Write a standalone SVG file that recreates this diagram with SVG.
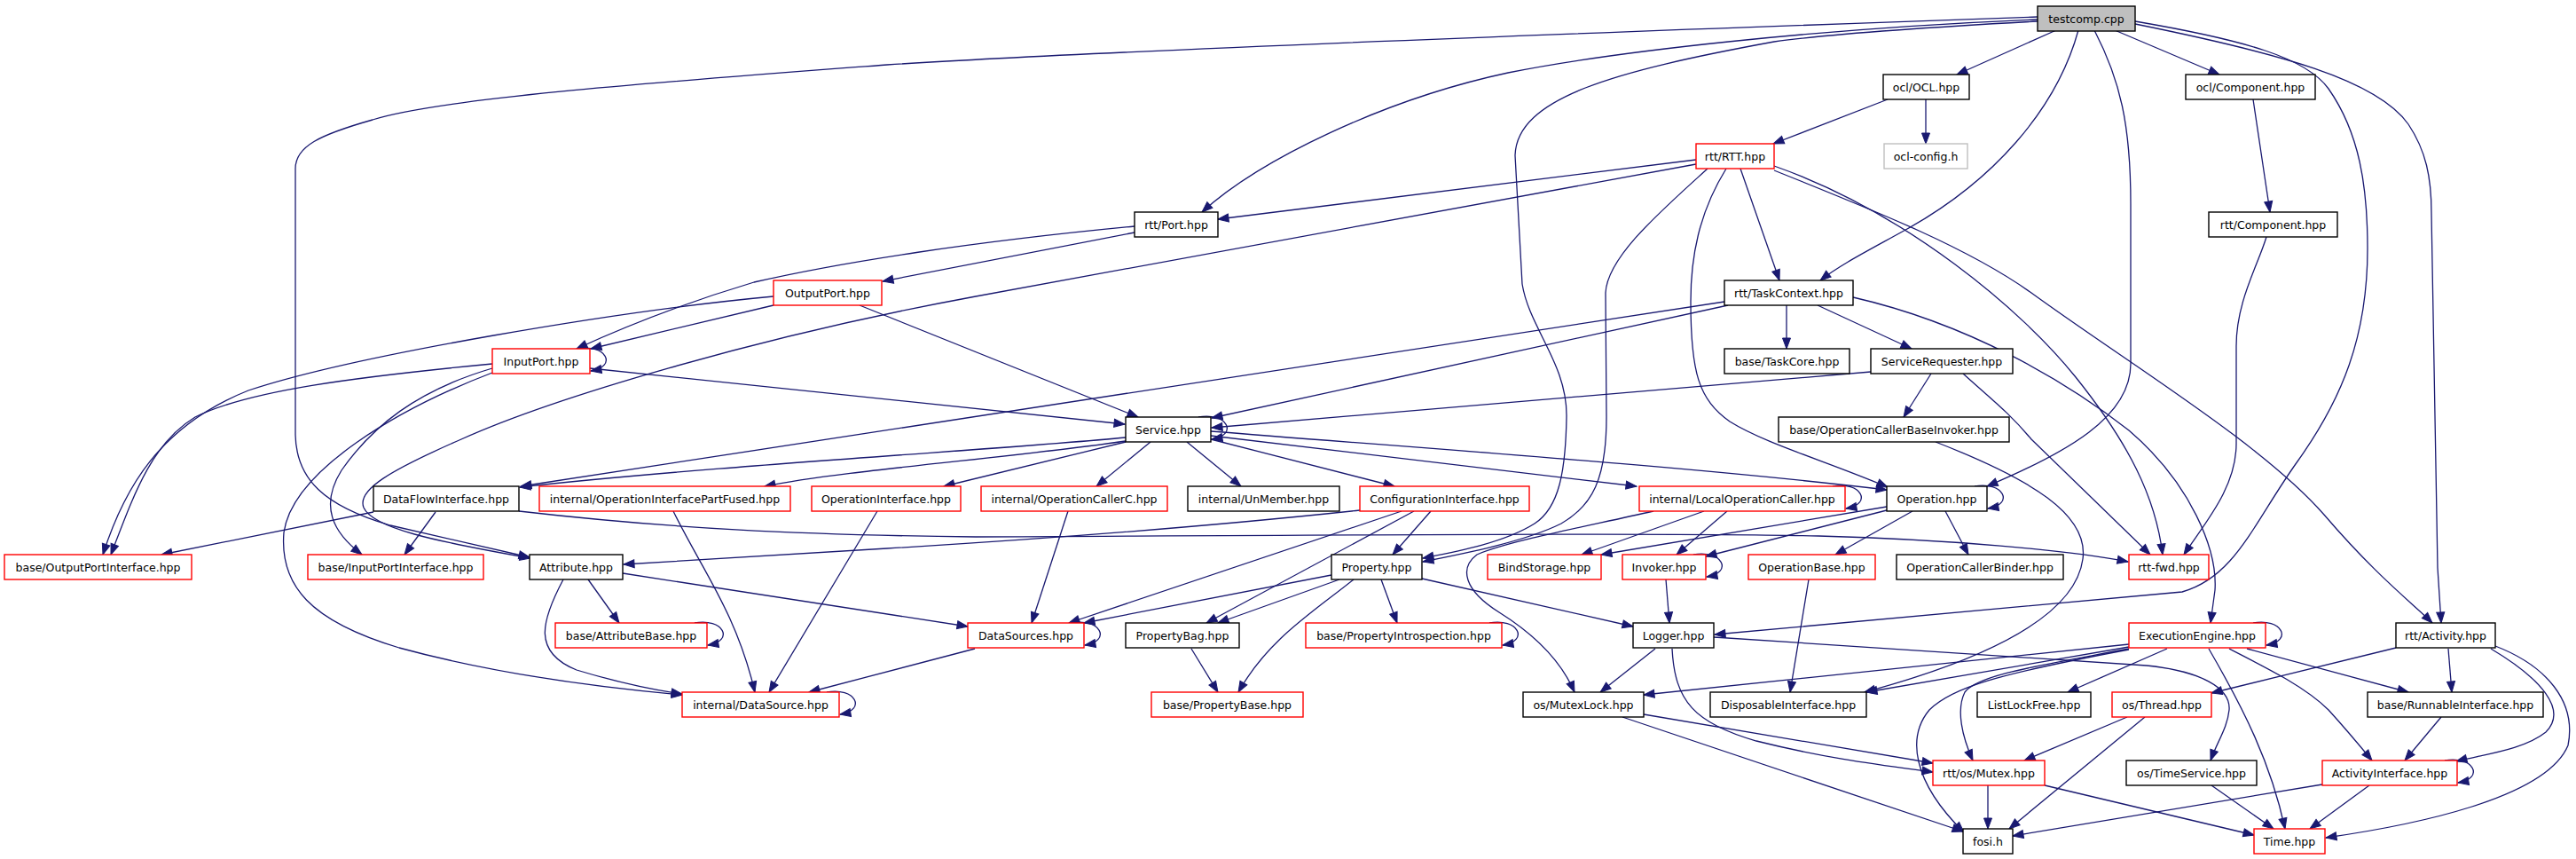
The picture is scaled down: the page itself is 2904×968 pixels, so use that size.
<svg xmlns="http://www.w3.org/2000/svg" width="2904" height="968" viewBox="0 0 2904 968">
<defs>
<marker id="a" markerUnits="userSpaceOnUse" markerWidth="14" markerHeight="10" refX="12" refY="4.5" orient="auto" overflow="visible">
<path d="M0,0 L12,4.5 L0,9 z" fill="#191970" stroke="#191970" stroke-width="1"/>
</marker>
<style>
.n rect{fill:#fff;stroke:#000;stroke-width:1.4}
.r rect{stroke:#ff0000}
.g rect{stroke:#bfbfbf}
.t rect{fill:#bfbfbf}
text{font-family:"DejaVu Sans","Liberation Sans",sans-serif;font-size:12.5px;fill:#000;text-anchor:middle}
#edges path{fill:none;stroke:#191970;stroke-width:1.3;marker-end:url(#a)}
</style>
</defs>
<rect width="2904" height="968" fill="#fff"/>
<g id="edges">
<path d="M2318,34 L2206,84"/>
<path d="M2384,34 L2502,84"/>
<path d="M2343,34 C2318,125 2245,205 2150,258 C2105,283 2075,298 2052,316"/>
<path d="M2361,34 C2390,90 2402,140 2402,230 L2402,410 C2402,470 2330,510 2240,548"/>
<path d="M2297,22 C2050,32 1820,58 1700,82 C1560,112 1420,180 1355,239"/>
<path d="M2297,24 C2150,32 2050,40 2000,47 C1820,80 1710,110 1708,175 L1716,320 C1724,370 1767,410 1766,470 C1765,530 1758,572 1730,590 C1695,612 1640,622 1604,629"/>
<path d="M2297,19 C1700,40 1200,60 1000,73 C750,92 500,110 420,135 C360,152 333,165 333,190 L333,490 C334,540 365,570 440,592 L597,628"/>
<path d="M2407,24 C2530,45 2600,65 2625,100 C2660,150 2669,210 2669,280 C2669,380 2640,450 2590,520 C2540,590 2520,650 2460,667 L1933,715"/>
<path d="M2407,27 C2570,60 2680,90 2715,140 C2735,170 2741,200 2741,240 L2748,640 L2752,702"/>
<path d="M2128,112 L1999,162"/>
<path d="M2171,112 L2171,162"/>
<path d="M2540,112 L2559,239"/>
<path d="M2555,267 C2545,300 2521,340 2521,390 L2521,500 C2521,550 2485,590 2462,625"/>
<path d="M1912,180 L1373,247"/>
<path d="M1912,185 L1100,334 C850,380 620,450 520,495 C440,530 402,552 410,572 C420,595 490,610 598,629"/>
<path d="M1925,190 C1870,240 1812,290 1810,330 L1811,470 C1811,540 1795,570 1760,590 C1720,610 1650,624 1604,633"/>
<path d="M1946,190 C1915,240 1906,290 1906,340 C1906,420 1915,450 1950,475 C1990,500 2060,520 2128,549"/>
<path d="M1962,190 L2006,316"/>
<path d="M2000,187 C2150,240 2280,350 2340,425 C2400,500 2430,560 2438,625"/>
<path d="M2000,192 C2120,240 2220,280 2290,330 C2400,410 2550,500 2620,580 C2680,650 2720,680 2742,702"/>
<path d="M1944,340 L587,548"/>
<path d="M1948,344 L1366,471"/>
<path d="M2014,344 L2014,393"/>
<path d="M2049,344 L2155,393"/>
<path d="M2089,335 C2220,365 2330,430 2400,485 C2470,545 2500,620 2497,665 L2492,702"/>
<path d="M2109,419 L1366,482"/>
<path d="M2177,421 L2146,470"/>
<path d="M2213,421 C2245,450 2265,465 2290,495 L2424,625"/>
<path d="M2182,498 C2290,540 2355,580 2348,630 C2340,690 2250,740 2102,780"/>
<path d="M2039,653 L2018,780"/>
<path d="M2156,576 L2069,625"/>
<path d="M2193,576 L2219,625"/>
<path d="M2127,571 L1805,625"/>
<path d="M2127,575 L1923,627"/>
<path d="M2226,548 C2258,542 2272,568 2241,573"/>
<path d="M1921,576 L1783,625"/>
<path d="M1947,576 L1890,625"/>
<path d="M1864,576 C1780,595 1700,610 1665,625 C1645,640 1650,665 1690,690 C1730,715 1760,745 1775,780"/>
<path d="M1269,493 C1150,505 800,525 586,549"/>
<path d="M1269,497 C1150,515 950,530 862,548"/>
<path d="M1269,498 L1064,548"/>
<path d="M1297,498 L1236,548"/>
<path d="M1338,498 L1399,548"/>
<path d="M1365,495 L1572,548"/>
<path d="M1365,491 L1845,548"/>
<path d="M1365,486 C1600,505 1900,525 2127,552"/>
<path d="M1351,470 C1383,464 1397,490 1366,495"/>
<path d="M665,415 L1268,478"/>
<path d="M555,410 C400,425 280,440 220,470 C170,500 150,560 125,625"/>
<path d="M872,334 C700,350 400,400 280,440 C180,480 140,550 116,625"/>
<path d="M555,415 C470,440 420,480 385,530 C360,570 375,600 408,625"/>
<path d="M555,420 C450,460 330,530 320,600 C315,660 350,700 450,730 C560,760 680,775 769,783"/>
<path d="M651,393 C683,387 697,413 666,418"/>
<path d="M872,344 L666,393"/>
<path d="M969,344 L1283,470"/>
<path d="M1279,262 L995,317"/>
<path d="M1279,255 C1100,272 950,295 850,318 C760,345 700,370 650,393"/>
<path d="M421,577 L182,625"/>
<path d="M491,577 L456,625"/>
<path d="M585,576 C750,595 900,603 1100,605 C1500,603 1900,600 2050,604 C2200,608 2330,620 2399,633"/>
<path d="M759,576 C790,640 830,690 851,780"/>
<path d="M989,576 L867,780"/>
<path d="M1204,576 L1163,702"/>
<path d="M1533,575 C1300,600 1100,612 1000,618 L703,636"/>
<path d="M1580,576 L1205,702"/>
<path d="M1594,576 L1360,702"/>
<path d="M1613,576 L1570,625"/>
<path d="M2066,548 C2098,542 2112,568 2081,573"/>
<path d="M1501,648 L1222,702"/>
<path d="M1510,653 L1373,702"/>
<path d="M1526,653 C1480,690 1430,720 1396,780"/>
<path d="M1557,653 L1575,702"/>
<path d="M1603,652 L1841,706"/>
<path d="M1343,731 L1373,780"/>
<path d="M663,653 L698,702"/>
<path d="M635,653 C610,700 600,735 650,755 C700,770 740,778 769,782"/>
<path d="M702,646 L1091,706"/>
<path d="M783,702 C815,696 829,722 798,727"/>
<path d="M1208,702 C1240,696 1254,722 1223,727"/>
<path d="M1099,731 L912,780"/>
<path d="M1679,702 C1711,696 1725,722 1694,727"/>
<path d="M932,780 C964,774 978,800 947,805"/>
<path d="M1878,653 L1882,702"/>
<path d="M1909,625 C1941,619 1955,645 1924,650"/>
<path d="M1866,731 L1804,780"/>
<path d="M1885,731 C1888,790 1910,815 1980,835 C2060,855 2120,862 2179,870"/>
<path d="M1932,718 L2420,750 C2480,756 2515,775 2513,800 C2511,820 2500,835 2492,857"/>
<path d="M1853,805 L2179,860"/>
<path d="M1829,808 L2213,937"/>
<path d="M2400,726 L1853,783"/>
<path d="M2400,729 L2104,780"/>
<path d="M2400,731 C2300,750 2230,760 2215,780 C2205,800 2212,830 2224,857"/>
<path d="M2400,732 C2250,760 2200,775 2175,800 C2150,830 2155,880 2214,938"/>
<path d="M2443,731 L2331,780"/>
<path d="M2490,731 C2530,800 2560,860 2576,934"/>
<path d="M2513,731 C2560,755 2600,775 2625,800 C2645,822 2660,840 2674,857"/>
<path d="M2533,731 L2715,780"/>
<path d="M2540,702 C2572,696 2586,722 2555,727"/>
<path d="M2398,808 L2282,857"/>
<path d="M2418,808 L2265,934"/>
<path d="M2701,730 L2493,781"/>
<path d="M2760,731 L2764,780"/>
<path d="M2808,731 C2865,765 2895,800 2870,825 C2845,845 2800,850 2769,858"/>
<path d="M2813,728 C2870,750 2905,790 2895,840 C2870,900 2720,930 2622,944"/>
<path d="M2752,808 L2711,857"/>
<path d="M2756,857 C2788,851 2802,877 2771,882"/>
<path d="M2618,884 L2269,942"/>
<path d="M2671,885 L2604,934"/>
<path d="M2493,885 L2563,934"/>
<path d="M2241,885 L2241,934"/>
<path d="M2305,885 L2541,941"/>
</g>
<g id="n1" class="n t"><rect x="2297" y="7" width="110" height="28"/><text x="2352" y="25.5">testcomp.cpp</text></g>
<g id="n2" class="n"><rect x="2123" y="84" width="97" height="28"/><text x="2171.5" y="102.5">ocl/OCL.hpp</text></g>
<g id="n3" class="n"><rect x="2464" y="84" width="146" height="28"/><text x="2537" y="102.5">ocl/Component.hpp</text></g>
<g id="n4" class="n r"><rect x="1912" y="162" width="88" height="28"/><text x="1956" y="180.5">rtt/RTT.hpp</text></g>
<g id="n5" class="n g"><rect x="2124" y="162" width="94" height="28"/><text x="2171" y="180.5">ocl-config.h</text></g>
<g id="n6" class="n"><rect x="1279" y="239" width="94" height="28"/><text x="1326" y="257.5">rtt/Port.hpp</text></g>
<g id="n7" class="n"><rect x="2490" y="239" width="145" height="28"/><text x="2562.5" y="257.5">rtt/Component.hpp</text></g>
<g id="n8" class="n r"><rect x="872" y="316" width="122" height="28"/><text x="933" y="334.5">OutputPort.hpp</text></g>
<g id="n9" class="n"><rect x="1944" y="316" width="145" height="28"/><text x="2016.5" y="334.5">rtt/TaskContext.hpp</text></g>
<g id="n10" class="n r"><rect x="555" y="393" width="110" height="28"/><text x="610" y="411.5">InputPort.hpp</text></g>
<g id="n11" class="n"><rect x="1944" y="393" width="141" height="28"/><text x="2014.5" y="411.5">base/TaskCore.hpp</text></g>
<g id="n12" class="n"><rect x="2109" y="393" width="160" height="28"/><text x="2189" y="411.5">ServiceRequester.hpp</text></g>
<g id="n13" class="n"><rect x="1269" y="470" width="96" height="28"/><text x="1317" y="488.5">Service.hpp</text></g>
<g id="n14" class="n"><rect x="2005" y="470" width="260" height="28"/><text x="2135" y="488.5">base/OperationCallerBaseInvoker.hpp</text></g>
<g id="n15" class="n"><rect x="421" y="548" width="164" height="28"/><text x="503" y="566.5">DataFlowInterface.hpp</text></g>
<g id="n16" class="n r"><rect x="608" y="548" width="283" height="28"/><text x="749.5" y="566.5">internal/OperationInterfacePartFused.hpp</text></g>
<g id="n17" class="n r"><rect x="915" y="548" width="168" height="28"/><text x="999" y="566.5">OperationInterface.hpp</text></g>
<g id="n18" class="n r"><rect x="1106" y="548" width="210" height="28"/><text x="1211" y="566.5">internal/OperationCallerC.hpp</text></g>
<g id="n19" class="n"><rect x="1339" y="548" width="171" height="28"/><text x="1424.5" y="566.5">internal/UnMember.hpp</text></g>
<g id="n20" class="n r"><rect x="1533" y="548" width="191" height="28"/><text x="1628.5" y="566.5">ConfigurationInterface.hpp</text></g>
<g id="n21" class="n r"><rect x="1848" y="548" width="232" height="28"/><text x="1964" y="566.5">internal/LocalOperationCaller.hpp</text></g>
<g id="n22" class="n"><rect x="2127" y="548" width="113" height="28"/><text x="2183.5" y="566.5">Operation.hpp</text></g>
<g id="n23" class="n r"><rect x="5" y="625" width="211" height="28"/><text x="110.5" y="643.5">base/OutputPortInterface.hpp</text></g>
<g id="n24" class="n r"><rect x="347" y="625" width="198" height="28"/><text x="446" y="643.5">base/InputPortInterface.hpp</text></g>
<g id="n25" class="n"><rect x="597" y="625" width="105" height="28"/><text x="649.5" y="643.5">Attribute.hpp</text></g>
<g id="n26" class="n"><rect x="1501" y="625" width="102" height="28"/><text x="1552" y="643.5">Property.hpp</text></g>
<g id="n27" class="n r"><rect x="1677" y="625" width="128" height="28"/><text x="1741" y="643.5">BindStorage.hpp</text></g>
<g id="n28" class="n r"><rect x="1829" y="625" width="94" height="28"/><text x="1876" y="643.5">Invoker.hpp</text></g>
<g id="n29" class="n r"><rect x="1971" y="625" width="143" height="28"/><text x="2042.5" y="643.5">OperationBase.hpp</text></g>
<g id="n30" class="n"><rect x="2138" y="625" width="188" height="28"/><text x="2232" y="643.5">OperationCallerBinder.hpp</text></g>
<g id="n31" class="n r"><rect x="2400" y="625" width="90" height="28"/><text x="2445" y="643.5">rtt-fwd.hpp</text></g>
<g id="n32" class="n r"><rect x="626" y="702" width="171" height="28"/><text x="711.5" y="720.5">base/AttributeBase.hpp</text></g>
<g id="n33" class="n r"><rect x="1091" y="702" width="131" height="28"/><text x="1156.5" y="720.5">DataSources.hpp</text></g>
<g id="n34" class="n"><rect x="1269" y="702" width="128" height="28"/><text x="1333" y="720.5">PropertyBag.hpp</text></g>
<g id="n35" class="n r"><rect x="1472" y="702" width="221" height="28"/><text x="1582.5" y="720.5">base/PropertyIntrospection.hpp</text></g>
<g id="n36" class="n"><rect x="1841" y="702" width="91" height="28"/><text x="1886.5" y="720.5">Logger.hpp</text></g>
<g id="n37" class="n r"><rect x="2400" y="702" width="154" height="28"/><text x="2477" y="720.5">ExecutionEngine.hpp</text></g>
<g id="n38" class="n"><rect x="2701" y="702" width="112" height="28"/><text x="2757" y="720.5">rtt/Activity.hpp</text></g>
<g id="n39" class="n r"><rect x="769" y="780" width="177" height="28"/><text x="857.5" y="798.5">internal/DataSource.hpp</text></g>
<g id="n40" class="n r"><rect x="1298" y="780" width="171" height="28"/><text x="1383.5" y="798.5">base/PropertyBase.hpp</text></g>
<g id="n41" class="n"><rect x="1717" y="780" width="136" height="28"/><text x="1785" y="798.5">os/MutexLock.hpp</text></g>
<g id="n42" class="n"><rect x="1928" y="780" width="176" height="28"/><text x="2016" y="798.5">DisposableInterface.hpp</text></g>
<g id="n43" class="n"><rect x="2229" y="780" width="128" height="28"/><text x="2293" y="798.5">ListLockFree.hpp</text></g>
<g id="n44" class="n r"><rect x="2381" y="780" width="112" height="28"/><text x="2437" y="798.5">os/Thread.hpp</text></g>
<g id="n45" class="n"><rect x="2669" y="780" width="198" height="28"/><text x="2768" y="798.5">base/RunnableInterface.hpp</text></g>
<g id="n46" class="n r"><rect x="2179" y="857" width="126" height="28"/><text x="2242" y="875.5">rtt/os/Mutex.hpp</text></g>
<g id="n47" class="n"><rect x="2397" y="857" width="147" height="28"/><text x="2470.5" y="875.5">os/TimeService.hpp</text></g>
<g id="n48" class="n r"><rect x="2618" y="857" width="152" height="28"/><text x="2694" y="875.5">ActivityInterface.hpp</text></g>
<g id="n49" class="n"><rect x="2213" y="934" width="56" height="28"/><text x="2241" y="952.5">fosi.h</text></g>
<g id="n50" class="n r"><rect x="2541" y="934" width="80" height="28"/><text x="2581" y="952.5">Time.hpp</text></g>
</svg>
